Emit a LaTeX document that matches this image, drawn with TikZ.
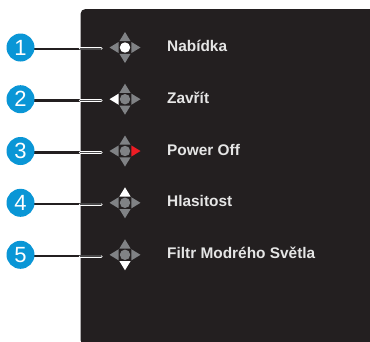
\documentclass[tikz,border=0pt]{standalone}
\usepackage{fontspec}
\setmainfont{Liberation Sans}
\definecolor{panel}{HTML}{231F20}
\definecolor{badge}{HTML}{0A96D6}
\definecolor{keygray}{HTML}{808285}
\definecolor{keyred}{HTML}{ED1C24}
\tikzset{
  badgenode/.style={circle,fill=badge,draw=none,minimum size=28pt,inner sep=0pt,text=white,font=\fontsize{22}{22}\selectfont},
  labelnode/.style={anchor=base west,inner sep=0pt,text=white!90!black,font=\fontsize{15.4}{18}\selectfont\bfseries},
  leaderout/.style={draw=white,line width=3.2pt,line cap=round},
  leaderin/.style={draw=keygray!40!panel,line width=1.4pt,line cap=round},
  leaderblack/.style={draw=panel,line width=2.6pt},
}
\newcommand{\dpad}[6]{% y, colours up down left right centre
  \begin{scope}[shift={(125,#1)}]
    \fill[#2] (0,-15.5) -- (5.6,-6.3) -- (-5.6,-6.3) -- cycle;
    \fill[#3] (0,15.5) -- (5.6,6.3) -- (-5.6,6.3) -- cycle;
    \fill[#4] (-15.5,0) -- (-6.3,5.6) -- (-6.3,-5.6) -- cycle;
    \fill[#5] (15.5,0) -- (6.3,5.6) -- (6.3,-5.6) -- cycle;
    \fill[#6] (0,0) circle (5.2);
  \end{scope}}
\newcommand{\row}[8]{% id, y, label, up, down, left, right, centre
  \coordinate (e#1) at (101,#2+1.3);
  \coordinate (p#1) at (80.5,#2+1.3);
  \coordinate (s#1) at (20,#2+1.3);
  \draw[leaderblack] (s#1) -- (p#1);
  \draw[leaderout] (p#1) -- (e#1);
  \draw[leaderin] (p#1) -- (e#1);
  \node[badgenode] (b#1) at (20.5,#2) {#1};
  \dpad{#2}{#4}{#5}{#6}{#7}{#8}
  \node[labelnode] (t#1) at (167,#2+4) {#3};
}
\begin{document}
\begin{tikzpicture}[x=1pt,y=-1pt]
  \useasboundingbox (0,0) rectangle (370,341);
  \fill[white] (0,0) rectangle (370,341);
  \fill[panel,rounded corners=5pt] (80.5,345) -- (80.5,9) -- (375,9) -- (375,345) -- cycle;
  \row{1}{47.5}{Nabídka}{keygray}{keygray}{keygray}{keygray}{white}
  \row{2}{99.2}{Zavřít}{keygray}{keygray}{white}{keygray}{keygray}
  \row{3}{151}{Power Off}{keygray}{keygray}{keygray}{keyred}{keygray}
  \row{4}{202.8}{Hlasitost}{white}{keygray}{keygray}{keygray}{keygray}
  \row{5}{254.8}{Filtr Modrého Světla}{keygray}{white}{keygray}{keygray}{keygray}
\end{tikzpicture}
\end{document}
